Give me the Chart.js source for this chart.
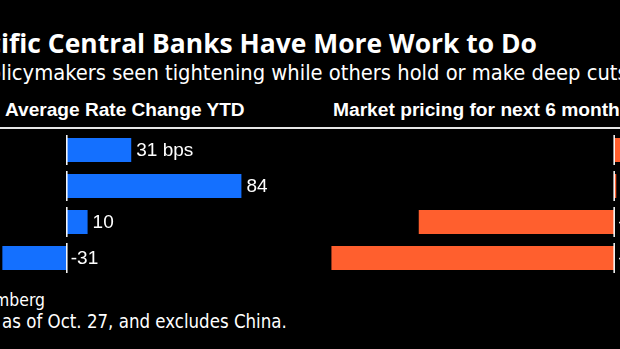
<!DOCTYPE html>
<html>
<head>
<meta charset="utf-8">
<script src="https://cdn.jsdelivr.net/npm/chart.js@4.4.0/dist/chart.umd.min.js"></script>
<style>
html, body { margin: 0; padding: 0; background: #000; }
body { width: 620px; height: 349px; overflow: hidden; position: relative; }
.txt { position: absolute; white-space: nowrap; color: #fff; line-height: 1; }
#rule { position: absolute; left: 0; top: 127px; width: 620px; height: 2px; background: #e6e6e6; }
.panel { position: absolute; top: 132px; height: 144px; }
</style>
</head>
<body>
<div id="title" class="txt" style="top:30px"></div>
<div id="subtitle" class="txt" style="top:62px"></div>
<div id="headLeft" class="txt" style="top:100px"></div>
<div id="headRight" class="txt" style="top:100px"></div>
<div id="rule"></div>
<div class="panel" style="left:-60px;width:370px"><canvas id="leftChart" width="370" height="144"></canvas></div>
<div class="panel" style="left:320px;width:400px"><canvas id="rightChart" width="400" height="144"></canvas></div>
<div id="source" class="txt" style="top:292px"></div>
<div id="note" class="txt" style="top:313px"></div>
<script>
var groups = ['Group 1', 'Group 2', 'Group 3', 'Group 4'];
var rateChangeYTD = [31, 84, 10, -31];
var marketPricing6m = [15, 1, -94, -136];

var blue = '#1470ff';
var orange = '#ff5f2e';

// sizes a line of text so the shown part spans the given width,
// and shifts it left so the hidden part sits off the page
function placeText(id, hidden, shown, rest, x, width, family, weight){
	var el = document.getElementById(id);
	var ctx = document.createElement('canvas').getContext('2d');
	ctx.font = weight + ' 100px ' + family;
	var size = 100 * width / ctx.measureText(shown).width;
	ctx.font = weight + ' ' + size + 'px ' + family;
	el.style.fontFamily = family;
	el.style.fontWeight = weight;
	el.style.fontSize = size + 'px';
	el.style.left = (x - ctx.measureText(hidden).width) + 'px';
	el.textContent = hidden + shown + rest;
}

placeText('title', 'Asia-Pac', 'ific Central Banks Have More Work to Do', '', 1, 536, '"Open Sans"', 'bold');
placeText('subtitle', 'Some po', 'licymakers seen tightening while others hold or make deep cut', 's', 1, 617, '"DejaVu Sans Condensed"', 'normal');
placeText('headLeft', '', 'Average Rate Change YTD', '', 5, 240, '"Liberation Sans"', 'bold');
placeText('headRight', '', 'Market pricing for next 6 month', 's', 333, 287, '"Liberation Sans"', 'bold');
placeText('source', 'Source: Bloo', 'mberg', '', -6, 51, '"DejaVu Sans Condensed"', 'normal');
placeText('note', 'Note: Data ', 'as of Oct. 27, and excludes China.', '', 2, 285, '"DejaVu Sans Condensed"', 'normal');

// white zero line, one short segment per row
var zeroLine = {
	id: 'zeroLine',
	afterDatasetsDraw: function(chart){
		var ctx = chart.ctx;
		var x0 = chart.scales.x.getPixelForValue(0);
		var y = chart.scales.y;
		var band = y.getPixelForValue(1) - y.getPixelForValue(0);
		ctx.save();
		ctx.strokeStyle = '#fff';
		ctx.lineWidth = 1.5;
		for(var i = 0; i < groups.length; i++){
			var yc = y.getPixelForValue(i);
			ctx.beginPath();
			ctx.moveTo(x0, yc - band / 2 + 3);
			ctx.lineTo(x0, yc + band / 2 - 3);
			ctx.stroke();
		}
		ctx.restore();
	}
};

// value labels: after the bar end, or after the zero line for cuts
var valueLabels = {
	id: 'valueLabels',
	afterDatasetsDraw: function(chart){
		var ctx = chart.ctx;
		var x0 = chart.scales.x.getPixelForValue(0);
		var meta = chart.getDatasetMeta(0);
		var data = chart.data.datasets[0].data;
		ctx.save();
		ctx.fillStyle = '#fff';
		ctx.font = '19px "Liberation Sans"';
		ctx.textBaseline = 'middle';
		for(var i = 0; i < meta.data.length; i++){
			var bar = meta.data[i];
			var v = data[i];
			var text = String(v) + (i == 0 ? ' bps' : '');
			var x = v >= 0 ? bar.x + 5 : x0 + 4;
			ctx.fillText(text, x, bar.y + 1);
		}
		ctx.restore();
	}
};

function makeChart(id, values, color, min, max){
	var ctx = document.getElementById(id).getContext('2d');
	return new Chart(ctx, {
		type: 'bar',
		data: {
			labels: groups,
			datasets: [{
				data: values,
				backgroundColor: color,
				borderWidth: 0,
				categoryPercentage: 1,
				barPercentage: 24 / 36
			}]
		},
		options: {
			indexAxis: 'y',
			responsive: false,
			animation: false,
			layout: { padding: 0 },
			plugins: { legend: { display: false }, tooltip: { enabled: false } },
			scales: {
				x: { display: false, min: min, max: max },
				y: { display: false }
			}
		},
		plugins: [zeroLine, valueLabels]
	});
}

makeChart('leftChart', rateChangeYTD, blue, -61, 117);
makeChart('rightChart', marketPricing6m, orange, -141.5, 50.9);
</script>
</body>
</html>
